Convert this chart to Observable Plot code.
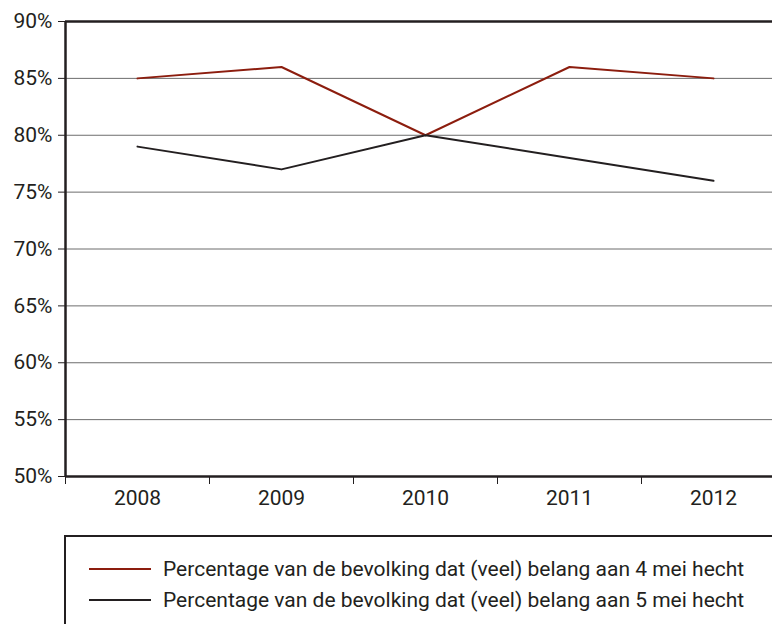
<!DOCTYPE html>
<html>
<head>
<meta charset="utf-8">
<script src="https://cdn.jsdelivr.net/npm/d3@7"></script>
<script src="https://cdn.jsdelivr.net/npm/@observablehq/plot@0.6"></script>
<style>
  html, body { margin: 0; padding: 0; background: #fff; width: 772px; height: 624px; overflow: hidden; }
  body { font-family: "Roboto", "Liberation Sans", sans-serif; color: #231f20; }
  #chart { width: 800px; }
  #chart svg { display: block; max-width: none !important; }
  #legend { position: absolute; left: 64px; top: 535px; width: 800px; height: 100px;
    border-left: 2px solid #231f20; border-top: 2px solid #231f20; box-sizing: border-box; }
  .item { position: absolute; left: 23px; height: 24px; display: flex; align-items: center; font-size: 21px; white-space: nowrap; }
  .sw { width: 62px; height: 0; border-top: 2px solid; margin-right: 12px; }
</style>
</head>
<body>
<div id="chart"></div>
<div id="legend"></div>
<script>
const years = [2008, 2009, 2010, 2011, 2012];
const may4 = [85, 86, 80, 86, 85];
const may5 = [79, 77, 80, 78, 76];
const yTicks = [50, 55, 60, 65, 70, 75, 80, 85, 90];
const seriesNames = [
  "Percentage van de bevolking dat (veel) belang aan 4 mei hecht",
  "Percentage van de bevolking dat (veel) belang aan 5 mei hecht"
];
const colors = ["#8c1d0e", "#231f20"];

const data = [];
years.forEach((yr, i) => {
  data.push({year: yr, value: may4[i], series: seriesNames[0]});
  data.push({year: yr, value: may5[i], series: seriesNames[1]});
});
const boundaries = years.map(y => y - 0.5).concat([years[years.length - 1] + 0.5]);

const chart = Plot.plot({
  width: 785,
  height: 528,
  marginLeft: 65,
  marginRight: 0,
  marginTop: 21,
  marginBottom: 52,
  style: { fontFamily: "Roboto, 'Liberation Sans', sans-serif", fontSize: "21px", color: "#231f20", background: "#fff", maxWidth: "none" },
  x: { domain: [2007.5, 2012.5] },
  y: { domain: [50, 90] },
  color: { domain: seriesNames, range: colors },
  marks: [
    Plot.ruleY(yTicks.filter(t => t > 50 && t < 90), { stroke: "#6d6d6d", strokeWidth: 1 }),
    Plot.ruleY([90], { stroke: "#231f20", strokeWidth: 2.5 }),
    Plot.axisY({ ticks: yTicks, tickFormat: d => d + "%", tickSize: 7, tickPadding: 6, label: null, fontSize: 21 }),
    Plot.axisX({ ticks: boundaries, tickFormat: () => "", tickSize: 8, label: null }),
    Plot.axisX({ ticks: years, tickFormat: d => String(d), tickSize: 0, tickPadding: 14, label: null, fontSize: 21 }),
    Plot.line(data, { x: "year", y: "value", z: "series", stroke: "series", strokeWidth: 2 }),
    Plot.ruleY([50], { stroke: "#231f20", strokeWidth: 2.5 }),
    Plot.ruleX([2007.5], { stroke: "#231f20", strokeWidth: 2.5 })
  ]
});
chart.style.maxWidth = "none";
document.getElementById("chart").appendChild(chart);

const legend = document.getElementById("legend");
seriesNames.forEach((name, i) => {
  const item = document.createElement("div");
  item.className = "item";
  item.style.top = (20 + i * 31) + "px";
  const sw = document.createElement("span");
  sw.className = "sw";
  sw.style.borderTopColor = colors[i];
  const t = document.createElement("span");
  t.textContent = name;
  item.appendChild(sw);
  item.appendChild(t);
  legend.appendChild(item);
});
</script>
</body>
</html>
